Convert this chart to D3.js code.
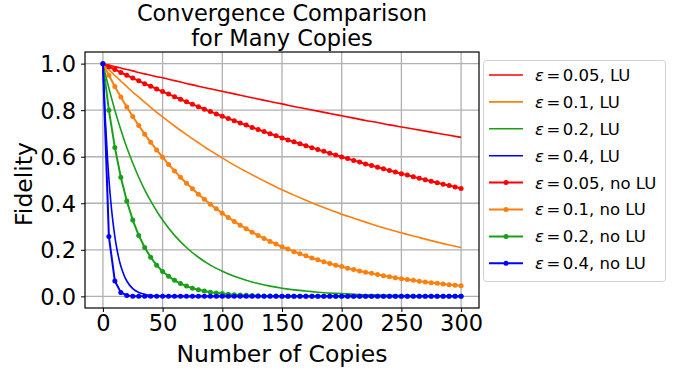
<!DOCTYPE html>
<html>
<head>
<meta charset="utf-8">
<script src="https://cdn.jsdelivr.net/npm/d3@7"></script>
<style>
  body { margin: 0; background: #fff; }
  text { font-family: "DejaVu Sans", sans-serif; fill: #000; }
</style>
</head>
<body>
<svg id="chart" width="677" height="373"></svg>
<script>
const d3 = window.d3;

// x values for the marker series (every 5 copies)
const copiesNoLU = d3.range(0, 301, 5);
// x values
const copiesLU = [0, 2, 4, 6, 8, 10, 12, 14, 16, 18, 20, 25, 30, 35, 40, 45, 50,
  60, 70, 80, 90, 100, 110, 120, 130, 140, 150, 160, 170, 180, 190, 200,
  210, 220, 230, 240, 250, 260, 270, 280, 290, 300];

const xTicks = [0, 50, 100, 150, 200, 250, 300];
const yTicks = [0.0, 0.2, 0.4, 0.6, 0.8, 1.0];

const lu005 = [1.000, 0.997, 0.995, 0.992, 0.990, 0.987, 0.985, 0.982, 0.980, 0.977, 0.975,
  0.969, 0.962, 0.956, 0.950, 0.944, 0.939, 0.927, 0.915, 0.903, 0.892, 0.881,
  0.870, 0.859, 0.848, 0.837, 0.827, 0.816, 0.806, 0.796, 0.786, 0.776,
  0.766, 0.756, 0.747, 0.737, 0.728, 0.719, 0.710, 0.701, 0.692, 0.683];
const lu01 = [1.000, 0.990, 0.979, 0.969, 0.959, 0.949, 0.940, 0.930, 0.920, 0.911, 0.901,
  0.878, 0.856, 0.834, 0.812, 0.791, 0.771, 0.732, 0.695, 0.660, 0.626, 0.595,
  0.564, 0.536, 0.509, 0.483, 0.458, 0.435, 0.413, 0.392, 0.372, 0.353,
  0.336, 0.319, 0.302, 0.287, 0.273, 0.259, 0.246, 0.233, 0.221, 0.210];
const lu02 = [1.000, 0.956, 0.915, 0.875, 0.837, 0.800, 0.765, 0.732, 0.700, 0.669, 0.640,
  0.573, 0.512, 0.458, 0.410, 0.367, 0.328, 0.262, 0.210, 0.168, 0.134, 0.108,
  0.086, 0.069, 0.055, 0.044, 0.035, 0.028, 0.023, 0.018, 0.014, 0.012,
  0.009, 0.007, 0.006, 0.005, 0.004, 0.003, 0.002, 0.002, 0.002, 0.001];
const lu04 = [1.000, 0.762, 0.580, 0.442, 0.337, 0.257, 0.196, 0.149, 0.114, 0.087, 0.066,
  0.033, 0.017, 0.009, 0.004, 0.002, 0.001, 0.000, 0.000, 0.000, 0.000, 0.000,
  0.000, 0.000, 0.000, 0.000, 0.000, 0.000, 0.000, 0.000, 0.000, 0.000,
  0.000, 0.000, 0.000, 0.000, 0.000, 0.000, 0.000, 0.000, 0.000, 0.000];

const nolu005 = [1.000, 0.987, 0.975, 0.962, 0.950, 0.938, 0.926, 0.914, 0.903, 0.891,
  0.880, 0.869, 0.858, 0.847, 0.836, 0.825, 0.815, 0.804, 0.794, 0.784,
  0.774, 0.764, 0.755, 0.745, 0.736, 0.726, 0.717, 0.708, 0.699, 0.690,
  0.681, 0.672, 0.664, 0.656, 0.647, 0.639, 0.631, 0.623, 0.615, 0.607,
  0.599, 0.592, 0.584, 0.577, 0.569, 0.562, 0.555, 0.548, 0.541, 0.534,
  0.527, 0.521, 0.514, 0.507, 0.501, 0.495, 0.488, 0.482, 0.476, 0.470,
  0.464];
const nolu01 = [1.000, 0.950, 0.902, 0.857, 0.814, 0.773, 0.734, 0.697, 0.662, 0.629,
  0.598, 0.567, 0.539, 0.512, 0.486, 0.462, 0.439, 0.417, 0.396, 0.376,
  0.357, 0.339, 0.322, 0.306, 0.291, 0.276, 0.262, 0.249, 0.236, 0.225,
  0.213, 0.203, 0.192, 0.183, 0.174, 0.165, 0.157, 0.149, 0.141, 0.134,
  0.128, 0.121, 0.115, 0.109, 0.104, 0.099, 0.094, 0.089, 0.084, 0.080,
  0.076, 0.072, 0.069, 0.065, 0.062, 0.059, 0.056, 0.053, 0.050, 0.048,
  0.046];
const nolu02 = [1.000, 0.800, 0.640, 0.512, 0.410, 0.328, 0.262, 0.210, 0.168, 0.134,
  0.107, 0.086, 0.069, 0.055, 0.044, 0.035, 0.028, 0.023, 0.018, 0.014,
  0.012, 0.009, 0.007, 0.006, 0.005, 0.004, 0.003, 0.002, 0.002, 0.002,
  0.001, 0.001, 0.001, 0.001, 0.000, 0.000, 0.000, 0.000, 0.000, 0.000,
  0.000, 0.000, 0.000, 0.000, 0.000, 0.000, 0.000, 0.000, 0.000, 0.000,
  0.000, 0.000, 0.000, 0.000, 0.000, 0.000, 0.000, 0.000, 0.000, 0.000,
  0.000];
const nolu04 = [1.000, 0.257, 0.066, 0.017, 0.004, 0.001, 0.000, 0.000, 0.000, 0.000,
  0.000, 0.000, 0.000, 0.000, 0.000, 0.000, 0.000, 0.000, 0.000, 0.000,
  0.000, 0.000, 0.000, 0.000, 0.000, 0.000, 0.000, 0.000, 0.000, 0.000,
  0.000, 0.000, 0.000, 0.000, 0.000, 0.000, 0.000, 0.000, 0.000, 0.000,
  0.000, 0.000, 0.000, 0.000, 0.000, 0.000, 0.000, 0.000, 0.000, 0.000,
  0.000, 0.000, 0.000, 0.000, 0.000, 0.000, 0.000, 0.000, 0.000, 0.000,
  0.000];

const epsLabels = ['0.05', '0.1', '0.2', '0.4'];
const colors = ['#ff0000', '#ff7f0e', '#19a019', '#0000ff'];

const series = [
  { eps: epsLabels[0], color: colors[0], lu: true, xs: copiesLU, ys: lu005 },
  { eps: epsLabels[1], color: colors[1], lu: true, xs: copiesLU, ys: lu01 },
  { eps: epsLabels[2], color: colors[2], lu: true, xs: copiesLU, ys: lu02 },
  { eps: epsLabels[3], color: colors[3], lu: true, xs: copiesLU, ys: lu04 },
  { eps: epsLabels[0], color: colors[0], lu: false, xs: copiesNoLU, ys: nolu005 },
  { eps: epsLabels[1], color: colors[1], lu: false, xs: copiesNoLU, ys: nolu01 },
  { eps: epsLabels[2], color: colors[2], lu: false, xs: copiesNoLU, ys: nolu02 },
  { eps: epsLabels[3], color: colors[3], lu: false, xs: copiesNoLU, ys: nolu04 }
];

const svg = d3.select('#chart');
svg.append('rect').attr('width', 677).attr('height', 373).attr('fill', '#fff');

const plot = { left: 85, right: 479, top: 52, bottom: 308 };

// matplotlib-style 5% margins
const x = d3.scaleLinear().domain([-15, 315]).range([plot.left, plot.right]);
const y = d3.scaleLinear().domain([-0.05, 1.05]).range([plot.bottom, plot.top]);

// grid
svg.append('g')
  .selectAll('line')
  .data(xTicks)
  .enter().append('line')
  .attr('x1', d => x(d)).attr('x2', d => x(d))
  .attr('y1', plot.top).attr('y2', plot.bottom)
  .attr('stroke', '#b0b0b0').attr('stroke-width', 1.3);
svg.append('g')
  .selectAll('line')
  .data(yTicks)
  .enter().append('line')
  .attr('x1', plot.left).attr('x2', plot.right)
  .attr('y1', d => y(d)).attr('y2', d => y(d))
  .attr('stroke', '#b0b0b0').attr('stroke-width', 1.3);

// curves
svg.append('clipPath').attr('id', 'clip')
  .append('rect')
  .attr('x', plot.left).attr('y', plot.top)
  .attr('width', plot.right - plot.left).attr('height', plot.bottom - plot.top);

const smooth = d3.line()
  .x(d => x(d[0]))
  .y(d => y(d[1]))
  .curve(d3.curveMonotoneX);
const straight = d3.line()
  .x(d => x(d[0]))
  .y(d => y(d[1]));

const curves = svg.append('g').attr('clip-path', 'url(#clip)');
series.forEach(s => {
  const pts = s.xs.map((c, i) => [c, s.ys[i]]);
  curves.append('path')
    .attr('d', s.lu ? smooth(pts) : straight(pts))
    .attr('fill', 'none')
    .attr('stroke', s.color)
    .attr('stroke-width', s.lu ? 1.6 : 2)
    .attr('stroke-linejoin', 'round');
  if (!s.lu) {
    curves.selectAll(null)
      .data(pts)
      .enter().append('circle')
      .attr('cx', d => x(d[0]))
      .attr('cy', d => y(d[1]))
      .attr('r', 2.5)
      .attr('fill', s.color);
  }
});

// axes
const xAxis = svg.append('g')
  .attr('transform', `translate(0, ${plot.bottom})`)
  .call(d3.axisBottom(x).tickValues(xTicks).tickSize(4).tickPadding(3).tickFormat(d3.format('d')));
const yAxis = svg.append('g')
  .attr('transform', `translate(${plot.left}, 0)`)
  .call(d3.axisLeft(y).tickValues(yTicks).tickSize(4).tickPadding(5).tickFormat(d3.format('.1f')));

[xAxis, yAxis].forEach(a => {
  a.select('.domain').remove();
  a.selectAll('line').attr('stroke', '#000').attr('stroke-width', 1);
  a.selectAll('text').style('font-size', '22.5px').attr('fill', '#000');
});
yAxis.selectAll('text').attr('dy', '0.36em');

// frame
svg.append('rect')
  .attr('x', plot.left).attr('y', plot.top)
  .attr('width', plot.right - plot.left).attr('height', plot.bottom - plot.top)
  .attr('fill', 'none').attr('stroke', '#000').attr('stroke-width', 1.2);

// titles
const cx = (plot.left + plot.right) / 2;
svg.append('text').attr('x', cx).attr('y', 21)
  .attr('text-anchor', 'middle').style('font-size', '22.5px')
  .text('Convergence Comparison');
svg.append('text').attr('x', cx).attr('y', 46)
  .attr('text-anchor', 'middle').style('font-size', '22.5px')
  .text('for Many Copies');
svg.append('text').attr('x', cx).attr('y', 362)
  .attr('text-anchor', 'middle').style('font-size', '23.5px')
  .text('Number of Copies');
svg.append('text')
  .attr('transform', `translate(32, ${(plot.top + plot.bottom) / 2 + 4}) rotate(-90)`)
  .attr('text-anchor', 'middle').style('font-size', '23.5px')
  .text('Fidelity');

// legend
const legend = svg.append('g');
legend.append('rect')
  .attr('x', 483.5).attr('y', 60.5).attr('width', 182).attr('height', 221)
  .attr('rx', 3)
  .attr('fill', '#fff').attr('stroke', '#d0d0d0').attr('stroke-width', 1);

series.forEach((s, i) => {
  const ly = 75 + i * 26.9;
  legend.append('line')
    .attr('x1', 489).attr('x2', 523)
    .attr('y1', ly).attr('y2', ly)
    .attr('stroke', s.color).attr('stroke-width', s.lu ? 1.6 : 2);
  if (!s.lu) {
    legend.append('circle').attr('cx', 506).attr('cy', ly).attr('r', 2.5).attr('fill', s.color);
  }
  const t = legend.append('text')
    .attr('x', 535).attr('y', ly).attr('dy', '0.36em')
    .style('font-size', '16.5px');
  t.append('tspan').style('font-style', 'italic').text('ε');
  t.append('tspan').attr('dx', 2.5).text('=');
  t.append('tspan').attr('dx', 2.5).text(`${s.eps}, ${s.lu ? 'LU' : 'no LU'}`);
});
</script>
</body>
</html>
